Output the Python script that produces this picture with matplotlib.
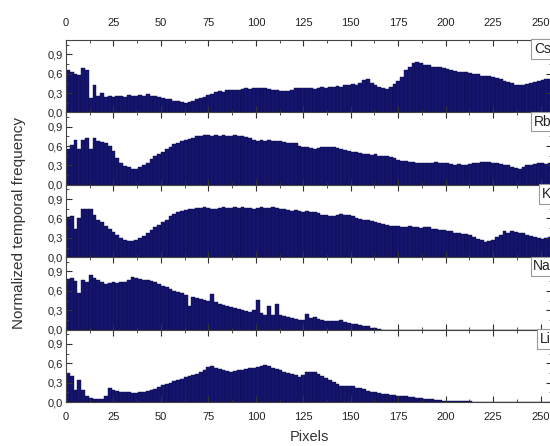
import matplotlib
matplotlib.use("Agg")
import matplotlib.pyplot as plt
import numpy as np
from matplotlib.ticker import MultipleLocator, FuncFormatter

plt.rcParams['font.family'] = ['Liberation Sans', 'DejaVu Sans']

# normalized temporal frequency, one value every 2 pixels (pixel 0, 2, 4, ...)
cs = [0.65, 0.62, 0.60, 0.58, 0.68, 0.66, 0.22, 0.42, 0.25, 0.30, 0.24, 0.26, 0.24, 0.25, 0.26, 0.24,
      0.27, 0.25, 0.26, 0.27, 0.26, 0.28, 0.26, 0.25, 0.24, 0.22, 0.21, 0.20, 0.18, 0.17, 0.16, 0.15,
      0.16, 0.18, 0.20, 0.22, 0.24, 0.27, 0.29, 0.31, 0.33, 0.32, 0.34, 0.35, 0.34, 0.35, 0.36, 0.37,
      0.36, 0.38, 0.38, 0.38, 0.37, 0.36, 0.35, 0.34, 0.33, 0.33, 0.33, 0.35, 0.37, 0.38, 0.38, 0.37,
      0.38, 0.36, 0.38, 0.39, 0.38, 0.40, 0.40, 0.41, 0.40, 0.42, 0.43, 0.44, 0.42, 0.46, 0.50, 0.52,
      0.46, 0.43, 0.40, 0.38, 0.36, 0.40, 0.44, 0.48, 0.55, 0.66, 0.70, 0.76, 0.78, 0.76, 0.74, 0.73,
      0.71, 0.70, 0.70, 0.68, 0.67, 0.66, 0.64, 0.63, 0.62, 0.62, 0.61, 0.60, 0.59, 0.57, 0.57, 0.56,
      0.54, 0.53, 0.51, 0.49, 0.47, 0.45, 0.43, 0.42, 0.43, 0.44, 0.46, 0.47, 0.48, 0.50, 0.51, 0.52]

rb = [0.56, 0.62, 0.70, 0.55, 0.70, 0.72, 0.56, 0.72, 0.68, 0.66, 0.64, 0.60, 0.52, 0.42, 0.34, 0.29,
      0.27, 0.25, 0.25, 0.27, 0.30, 0.34, 0.40, 0.45, 0.48, 0.51, 0.55, 0.59, 0.63, 0.65, 0.67, 0.69,
      0.71, 0.73, 0.75, 0.76, 0.77, 0.77, 0.76, 0.77, 0.76, 0.77, 0.76, 0.76, 0.77, 0.76, 0.75, 0.74,
      0.72, 0.70, 0.67, 0.69, 0.68, 0.69, 0.68, 0.68, 0.67, 0.66, 0.65, 0.65, 0.64, 0.60, 0.58, 0.58,
      0.57, 0.56, 0.57, 0.58, 0.59, 0.59, 0.58, 0.57, 0.55, 0.54, 0.53, 0.51, 0.50, 0.49, 0.48, 0.47,
      0.46, 0.47, 0.45, 0.44, 0.44, 0.43, 0.42, 0.39, 0.37, 0.37, 0.36, 0.35, 0.34, 0.34, 0.33, 0.33,
      0.34, 0.35, 0.34, 0.33, 0.33, 0.32, 0.31, 0.32, 0.31, 0.31, 0.32, 0.33, 0.34, 0.35, 0.36, 0.35,
      0.34, 0.33, 0.32, 0.31, 0.30, 0.28, 0.26, 0.25, 0.28, 0.30, 0.31, 0.32, 0.33, 0.33, 0.32, 0.34]

k = [0.62, 0.64, 0.43, 0.60, 0.74, 0.75, 0.74, 0.66, 0.58, 0.54, 0.49, 0.44, 0.39, 0.34, 0.30, 0.27,
     0.25, 0.25, 0.26, 0.29, 0.33, 0.38, 0.42, 0.46, 0.50, 0.54, 0.58, 0.63, 0.67, 0.70, 0.72, 0.73,
     0.74, 0.75, 0.76, 0.76, 0.77, 0.76, 0.75, 0.74, 0.76, 0.77, 0.76, 0.76, 0.77, 0.76, 0.77, 0.76,
     0.76, 0.75, 0.76, 0.77, 0.76, 0.76, 0.77, 0.76, 0.75, 0.74, 0.73, 0.72, 0.73, 0.71, 0.70, 0.71,
     0.70, 0.70, 0.68, 0.66, 0.65, 0.64, 0.64, 0.66, 0.67, 0.66, 0.65, 0.63, 0.61, 0.59, 0.58, 0.57,
     0.56, 0.54, 0.53, 0.51, 0.50, 0.49, 0.48, 0.48, 0.47, 0.46, 0.48, 0.46, 0.47, 0.45, 0.46, 0.46,
     0.44, 0.43, 0.42, 0.42, 0.41, 0.40, 0.38, 0.37, 0.36, 0.36, 0.34, 0.31, 0.28, 0.26, 0.24, 0.25,
     0.27, 0.31, 0.35, 0.40, 0.38, 0.41, 0.39, 0.37, 0.37, 0.35, 0.33, 0.31, 0.29, 0.28, 0.30, 0.32]

na = [0.79, 0.80, 0.75, 0.56, 0.76, 0.74, 0.84, 0.80, 0.77, 0.74, 0.71, 0.72, 0.73, 0.72, 0.73, 0.74,
      0.76, 0.82, 0.80, 0.78, 0.77, 0.76, 0.75, 0.73, 0.71, 0.68, 0.66, 0.63, 0.60, 0.58, 0.56, 0.54,
      0.36, 0.50, 0.49, 0.48, 0.46, 0.44, 0.55, 0.42, 0.40, 0.38, 0.37, 0.35, 0.34, 0.32, 0.30, 0.29,
      0.28, 0.30, 0.46, 0.26, 0.23, 0.36, 0.22, 0.39, 0.22, 0.21, 0.20, 0.18, 0.17, 0.15, 0.15, 0.24,
      0.18, 0.20, 0.16, 0.15, 0.14, 0.14, 0.14, 0.13, 0.15, 0.12, 0.10, 0.09, 0.08, 0.07, 0.06, 0.05,
      0.03, 0.02, 0.01, 0, 0, 0, 0, 0, 0, 0, 0, 0, 0, 0, 0, 0,
      0, 0, 0, 0, 0, 0, 0, 0, 0, 0, 0, 0, 0, 0, 0, 0,
      0, 0, 0, 0, 0, 0, 0, 0, 0, 0, 0, 0, 0, 0, 0, 0]

li = [0.45, 0.40, 0.19, 0.34, 0.19, 0.10, 0.06, 0.05, 0.04, 0.04, 0.10, 0.22, 0.18, 0.17, 0.16, 0.16,
      0.15, 0.14, 0.14, 0.15, 0.15, 0.17, 0.18, 0.20, 0.23, 0.26, 0.28, 0.30, 0.32, 0.34, 0.36, 0.38,
      0.40, 0.42, 0.44, 0.47, 0.50, 0.54, 0.55, 0.53, 0.51, 0.49, 0.48, 0.47, 0.48, 0.49, 0.50, 0.51,
      0.52, 0.53, 0.54, 0.55, 0.57, 0.56, 0.53, 0.51, 0.49, 0.47, 0.45, 0.43, 0.41, 0.39, 0.42, 0.46,
      0.47, 0.46, 0.43, 0.40, 0.37, 0.34, 0.31, 0.28, 0.25, 0.24, 0.25, 0.24, 0.22, 0.21, 0.20, 0.17,
      0.16, 0.15, 0.14, 0.13, 0.12, 0.11, 0.11, 0.10, 0.09, 0.09, 0.08, 0.07, 0.06, 0.06, 0.05, 0.04,
      0.04, 0.03, 0.03, 0.02, 0.02, 0.02, 0.015, 0.015, 0.01, 0.01, 0.01, 0.005, 0.005, 0.003, 0, 0,
      0, 0, 0, 0, 0, 0, 0, 0, 0, 0, 0, 0, 0, 0, 0, 0]

series = [("Cs", cs), ("Rb", rb), ("K", k), ("Na", na), ("Li", li)]
xticks = [0, 25, 50, 75, 100, 125, 150, 175, 200, 225, 250]
yticks = [0.0, 0.3, 0.6, 0.9]

bar_color = '#15156f'

fig = plt.figure(figsize=(5.5, 4.46), dpi=100)
left = 66 / 550
width = 486 / 550
top = 1 - 40 / 446
h = 72.4 / 446

comma = FuncFormatter(lambda v, p: f"{v:.1f}".replace('.', ','))

for i, (name, vals) in enumerate(series):
    ax = fig.add_axes([left, top - (i + 1) * h, width, h])
    x = np.arange(len(vals)) * 2
    ax.bar(x, vals, width=2.0, align='edge', color=bar_color,
           edgecolor='#0a0a45', linewidth=0.3)
    ax.set_xlim(0, 256)
    ax.set_ylim(0, 1.12)
    ax.set_yticks(yticks)
    ax.yaxis.set_major_formatter(comma)
    ax.yaxis.set_minor_locator(MultipleLocator(0.15))
    ax.set_xticks(xticks)
    ax.xaxis.set_minor_locator(MultipleLocator(12.5))
    ax.tick_params(which='both', direction='in', top=True, right=True,
                   labelsize=8, colors='#333333', labelcolor='#222222', pad=3)
    ax.tick_params(which='major', length=4, width=0.8)
    ax.tick_params(which='minor', length=2.5, width=0.6)
    ax.tick_params(axis='y', pad=2)
    for sp in ax.spines.values():
        sp.set_color('#444444')
        sp.set_linewidth(0.8)
    if i == 0:
        ax.tick_params(axis='x', labeltop=True, labelbottom=False, pad=9)
    elif i == len(series) - 1:
        ax.tick_params(axis='x', labelbottom=True, labeltop=False, pad=7)
        ax.set_xlabel("Pixels", fontsize=10.5, color='#333333', labelpad=6)
    else:
        ax.tick_params(axis='x', labelbottom=False)
    ax.text(0.998, 0.97, name, transform=ax.transAxes, ha='right', va='top',
            fontsize=10, color='#222222',
            bbox=dict(boxstyle='square,pad=0.2', facecolor='white',
                      edgecolor='#999999', linewidth=0.8))

fig.text(0.035, 0.5, "Normalized temporal frequency", rotation=90,
         ha='center', va='center', fontsize=11, color='#333333')

fig.savefig("out.png", dpi=100)
